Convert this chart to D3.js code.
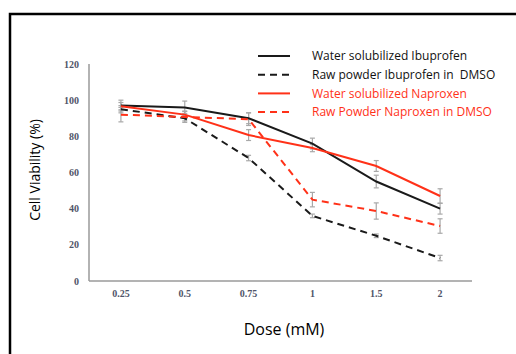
<!DOCTYPE html>
<html>
<head>
<meta charset="utf-8">
<script src="https://cdn.jsdelivr.net/npm/d3@7"></script>
<style>
  body { margin: 0; background: #fff; }
  svg { display: block; }
</style>
</head>
<body>
<svg id="chart" width="516" height="354"></svg>
<script>
// doses on the x axis
const doses = ['0.25', '0.5', '0.75', '1', '1.5', '2'];
const yTicks = [0, 20, 40, 60, 80, 100, 120];

// cell viability (%) per series
const waterIbu = [97, 96, 90, 76, 55, 40];
const rawIbu = [95, 90, 68, 36, 25, 12.7];
const waterNap = [96.7, 92, 80.7, 73.5, 63.6, 47];
const rawNap = [92, 90.7, 89.5, 45, 38.7, 30.4];

// error (+/-) per series
const waterIbuErr = [3, 3.5, 3, 3, 3.5, 3];
const rawIbuErr = [2, 1.5, 1.5, 1, 1, 1.5];
const waterNapErr = [2, 2, 3, 2, 3, 4];
const rawNapErr = [4, 3, 3.5, 4, 4.5, 4];

const seriesNames = [
  'Water solubilized Ibuprofen',
  'Raw powder Ibuprofen in  DMSO',
  'Water solubilized Naproxen',
  'Raw Powder Naproxen in DMSO'
];

const black = '#1a1a1a';
const red = '#ff3118';

const series = [
  { name: seriesNames[0], values: waterIbu, err: waterIbuErr, color: black, dash: null, textColor: '#111' },
  { name: seriesNames[1], values: rawIbu, err: rawIbuErr, color: black, dash: '7,5', textColor: '#111' },
  { name: seriesNames[2], values: waterNap, err: waterNapErr, color: red, dash: null, textColor: red },
  { name: seriesNames[3], values: rawNap, err: rawNapErr, color: red, dash: '7,5', textColor: red }
];

const svg = d3.select('#chart');

// outer frame (runs off the right and bottom)
svg.append('rect')
  .attr('x', 10).attr('y', 14)
  .attr('width', 560).attr('height', 400)
  .attr('fill', 'none')
  .attr('stroke', '#000')
  .attr('stroke-width', 2.5);

const x = d3.scaleBand().domain(doses).range([89, 472]);
const y = d3.scaleLinear().domain([0, 120]).range([281, 64]);
const cx = d => x(d) + x.bandwidth() / 2;

// axes lines
svg.append('line')
  .attr('x1', 89).attr('x2', 89)
  .attr('y1', y(120)).attr('y2', y(0))
  .attr('stroke', '#9a9a9a').attr('stroke-width', 1.5);
svg.append('line')
  .attr('x1', 89).attr('x2', 472)
  .attr('y1', y(0)).attr('y2', y(0))
  .attr('stroke', '#9a9a9a').attr('stroke-width', 1.5);

const tickFont = '"Liberation Serif", "DejaVu Serif", serif';
const tickColor = '#4f5468';

svg.append('g')
  .selectAll('text')
  .data(yTicks)
  .join('text')
  .attr('x', 79)
  .attr('y', d => y(d))
  .attr('dy', '0.35em')
  .attr('text-anchor', 'end')
  .attr('font-family', tickFont)
  .attr('font-weight', 'bold')
  .attr('font-size', 10)
  .attr('fill', tickColor)
  .text(d => d);

svg.append('g')
  .selectAll('text')
  .data(doses)
  .join('text')
  .attr('x', d => cx(d))
  .attr('y', 297)
  .attr('text-anchor', 'middle')
  .attr('font-family', tickFont)
  .attr('font-weight', 'bold')
  .attr('font-size', 10)
  .attr('fill', tickColor)
  .text(d => d);

// axis titles
const labelFont = '"Open Sans", "Liberation Sans", sans-serif';
svg.append('text')
  .attr('transform', 'translate(40,170) rotate(-90)')
  .attr('text-anchor', 'middle')
  .attr('font-family', labelFont)
  .attr('font-size', 14)
  .attr('fill', '#000')
  .text('Cell Viability (%)');
svg.append('text')
  .attr('x', 284).attr('y', 335)
  .attr('text-anchor', 'middle')
  .attr('font-family', labelFont)
  .attr('font-size', 16)
  .attr('fill', '#000')
  .text('Dose (mM)');

// error bars
const errG = svg.append('g');
series.forEach(s => {
  doses.forEach((d, i) => {
    const xx = cx(d);
    const lo = y(s.values[i] - s.err[i]);
    const hi = y(s.values[i] + s.err[i]);
    errG.append('line').attr('x1', xx).attr('x2', xx).attr('y1', lo).attr('y2', hi)
      .attr('stroke', '#a8a8a8').attr('stroke-width', 1.2);
    [lo, hi].forEach(v => {
      errG.append('line').attr('x1', xx - 2.5).attr('x2', xx + 2.5).attr('y1', v).attr('y2', v)
        .attr('stroke', '#a8a8a8').attr('stroke-width', 1.2);
    });
  });
});

// series lines
const line = d3.line()
  .x((v, i) => cx(doses[i]))
  .y(v => y(v));

series.forEach(s => {
  svg.append('path')
    .datum(s.values)
    .attr('d', line)
    .attr('fill', 'none')
    .attr('stroke', s.color)
    .attr('stroke-width', 2)
    .attr('stroke-dasharray', s.dash);
});

// legend
const legend = svg.append('g');
series.forEach((s, i) => {
  const ly = 56 + i * 18.7;
  legend.append('line')
    .attr('x1', 258).attr('x2', 290)
    .attr('y1', ly).attr('y2', ly)
    .attr('stroke', s.color)
    .attr('stroke-width', 2)
    .attr('stroke-dasharray', s.dash ? '7,5' : null);
  legend.append('text')
    .attr('x', 312).attr('y', ly)
    .attr('dy', '0.35em')
    .attr('font-family', labelFont)
    .attr('font-size', 12)
    .attr('fill', s.textColor)
    .style('white-space', 'pre')
    .text(s.name);
});
</script>
</body>
</html>
